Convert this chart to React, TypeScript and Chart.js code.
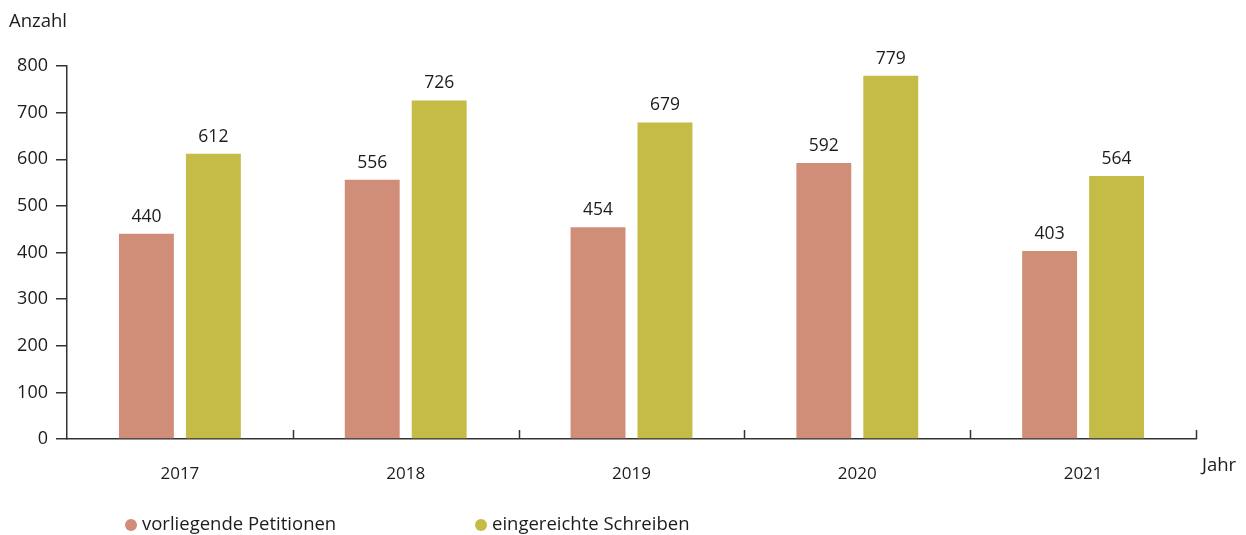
import React, { useEffect, useRef } from "react";
import { Chart, registerables } from "chart.js";

Chart.register(...registerables);

const categories = ["2017", "2018", "2019", "2020", "2021"];
const petitionen = [440, 556, 454, 592, 403];
const schreiben = [612, 726, 679, 779, 564];
const seriesNames = ["vorliegende Petitionen", "eingereichte Schreiben"];
const yTitle = "Anzahl";
const xTitle = "Jahr";

const RED = "#D08D78";
const GREEN = "#C4BC46";
const AXIS = "#333333";
const TEXT = "#1c1c1c";
const FONT = "'Open Sans', 'Noto Sans', sans-serif";

const overlayPlugin = {
  id: "overlay",
  afterDraw(chart: any) {
    const ctx = chart.ctx;
    const area = chart.chartArea;
    ctx.save();
    // upward ticks at category boundaries
    ctx.strokeStyle = AXIS;
    ctx.lineWidth = 1.5;
    const n = categories.length;
    const w = (area.right - area.left) / n;
    for (let i = 1; i <= n; i++) {
      const x = Math.round(area.left + i * w) + 0.5;
      ctx.beginPath();
      ctx.moveTo(x, area.bottom);
      ctx.lineTo(x, area.bottom - 9);
      ctx.stroke();
    }
    // value labels
    ctx.fillStyle = TEXT;
    ctx.font = `17.5px ${FONT}`;
    ctx.textAlign = "center";
    ctx.textBaseline = "middle";
    chart.data.datasets.forEach((ds: any, di: number) => {
      const meta = chart.getDatasetMeta(di);
      meta.data.forEach((bar: any, i: number) => {
        ctx.fillText(String(ds.data[i]), bar.x, bar.y - 17);
      });
    });
    // axis titles
    ctx.font = `18.5px ${FONT}`;
    ctx.textAlign = "left";
    ctx.fillText(yTitle, 9, 22);
    ctx.fillText(xTitle, area.right + 6, 466);
    // legend
    const colors = [RED, GREEN];
    const lx = [131, 481];
    seriesNames.forEach((name, i) => {
      ctx.fillStyle = colors[i];
      ctx.beginPath();
      ctx.arc(lx[i], 525, 6, 0, Math.PI * 2);
      ctx.fill();
      ctx.fillStyle = TEXT;
      ctx.textAlign = "left";
      ctx.fillText(name, lx[i] + 11, 525);
    });
    ctx.restore();
  },
};

export default function App() {
  const ref = useRef<HTMLCanvasElement | null>(null);
  useEffect(() => {
    document.body.style.margin = "0";
    const chart = new Chart(ref.current as HTMLCanvasElement, {
      type: "bar",
      data: {
        labels: categories,
        datasets: [
          {
            label: seriesNames[0],
            data: petitionen,
            backgroundColor: RED,
            barPercentage: 0.82,
            categoryPercentage: 0.593,
          },
          {
            label: seriesNames[1],
            data: schreiben,
            backgroundColor: GREEN,
            barPercentage: 0.82,
            categoryPercentage: 0.593,
          },
        ],
      },
      options: {
        animation: false,
        responsive: false,
        maintainAspectRatio: false,
        layout: { padding: { top: 66, right: 50, left: 0, bottom: 0 } },
        plugins: { legend: { display: false }, tooltip: { enabled: false } },
        scales: {
          x: {
            grid: { display: false },
            border: { display: true, color: AXIS, width: 1.5 },
            ticks: {
              color: TEXT,
              font: { family: FONT, size: 17 },
              padding: 17,
            },
            afterFit: (s: any) => {
              s.height = 96;
            },
          },
          y: {
            min: 0,
            max: 800,
            grid: {
              drawOnChartArea: false,
              drawTicks: true,
              tickLength: 11,
              color: AXIS,
              lineWidth: 1.5,
            },
            border: { display: true, color: AXIS, width: 1.5 },
            ticks: {
              stepSize: 100,
              color: TEXT,
              font: { family: FONT, size: 18 },
              padding: 8,
            },
            afterFit: (s: any) => {
              s.width = 67;
            },
          },
        },
      },
      plugins: [overlayPlugin],
    });
    return () => chart.destroy();
  }, []);
  return (
    <div style={{ position: "absolute", left: 0, top: 0, width: 1246, height: 535, background: "#fff" }}>
      <canvas ref={ref} width={1246} height={535} style={{ width: 1246, height: 535 }} />
    </div>
  );
}
